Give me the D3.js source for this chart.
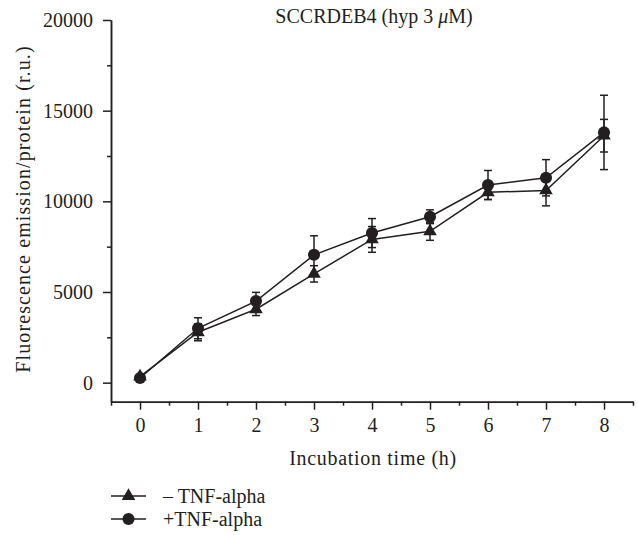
<!DOCTYPE html>
<html>
<head>
<meta charset="utf-8">
<script src="https://cdn.jsdelivr.net/npm/d3@7"></script>
<style>
  html, body { margin: 0; padding: 0; background: #fff; }
  svg { display: block; }
</style>
</head>
<body>
<svg id="chart" width="638" height="535" font-family="Liberation Serif"></svg>
<script>
// ---- data ----
const hours = [0, 1, 2, 3, 4, 5, 6, 7, 8];
const minusTNF = [330, 2780, 4050, 6000, 7900, 8350, 10500, 10600, 13620];
const minusTNFErr = [0, 470, 350, 450, 710, 500, 400, 850, 900];
const plusTNF = [260, 3000, 4500, 7050, 8250, 9150, 10900, 11300, 13800];
const plusTNFErr = [0, 580, 480, 1050, 800, 380, 800, 1000, 2050];
const xTickValues = [0, 1, 2, 3, 4, 5, 6, 7, 8];
const xMinorTicks = [-0.5, 0.5, 1.5, 2.5, 3.5, 4.5, 5.5, 6.5, 7.5, 8.5];
const yTickValues = [0, 5000, 10000, 15000, 20000];
const yMinorTicks = [2500, 7500, 12500, 17500];
const seriesNames = ["\u2013 TNF-alpha", "+TNF-alpha"];
const titleMain = "SCCRDEB4 (hyp 3 ";
const xLabel = "Incubation time (h)";
const yLabel = "Fluorescence emission/protein (r.u.)";

const ink = "#231f20";
const FONT = "Liberation Serif";
const svg = d3.select("#chart");

const x = d3.scaleLinear().domain([-0.5, 8.5]).range([111, 633]);
const y = d3.scaleLinear().domain([-1050, 20000]).range([401.7, 20]);

// axes
const xAxis = svg.append("g").attr("transform", `translate(0,${y(-1050)})`)
  .call(d3.axisBottom(x).tickValues(xTickValues).tickSize(8).tickSizeOuter(0).tickPadding(8).tickFormat(d3.format("d")));
const xMinor = svg.append("g").attr("transform", `translate(0,${y(-1050)})`)
  .call(d3.axisBottom(x).tickValues(xMinorTicks).tickSize(4).tickSizeOuter(0).tickFormat(""));
const yAxis = svg.append("g").attr("transform", `translate(${x(-0.5)},0)`)
  .call(d3.axisLeft(y).tickValues(yTickValues).tickSize(8).tickSizeOuter(0).tickPadding(10).tickFormat(d3.format("d")));
const yMinor = svg.append("g").attr("transform", `translate(${x(-0.5)},0)`)
  .call(d3.axisLeft(y).tickValues(yMinorTicks).tickSize(4).tickSizeOuter(0).tickFormat(""));

[xAxis, xMinor, yAxis, yMinor].forEach(g => {
  g.attr("font-family", FONT).attr("font-size", 20);
  g.selectAll("path").attr("stroke", ink).attr("stroke-width", 1.5);
  g.selectAll("line").attr("stroke", ink).attr("stroke-width", 1.5);
  g.selectAll("text").attr("fill", ink).attr("font-family", FONT).attr("font-size", 20);
});

// axis labels
svg.append("text").attr("x", 373).attr("y", 465).attr("text-anchor", "middle")
  .attr("font-family", FONT).attr("fill", ink)
  .attr("font-size", 20).attr("letter-spacing", 0.7).text(xLabel);
svg.append("text").attr("transform", "translate(30,209) rotate(-90)").attr("text-anchor", "middle")
  .attr("font-family", FONT).attr("fill", ink)
  .attr("font-size", 20).attr("letter-spacing", 1.1).text(yLabel);

// title
const t = svg.append("text").attr("x", 374).attr("y", 23).attr("text-anchor", "middle")
  .attr("font-family", FONT).attr("fill", ink).attr("font-size", 20);
t.append("tspan").text(titleMain);
t.append("tspan").attr("font-style", "italic").text("\u03bc");
t.append("tspan").text("M)");

// series
const series = [
  { name: seriesNames[0], vals: minusTNF, err: minusTNFErr, sym: d3.symbolTriangle, size: 80 },
  { name: seriesNames[1], vals: plusTNF, err: plusTNFErr, sym: d3.symbolCircle, size: 115 }
];

const line = d3.line().x((d, i) => x(hours[i])).y(d => y(d));

series.forEach(s => {
  const g = svg.append("g");
  hours.forEach((h, i) => {
    if (!s.err[i]) return;
    const cx = x(h), top = y(s.vals[i] + s.err[i]), bot = y(s.vals[i] - s.err[i]);
    g.append("line").attr("x1", cx).attr("x2", cx).attr("y1", top).attr("y2", bot)
      .attr("stroke", ink).attr("stroke-width", 1.5);
    [top, bot].forEach(yy => g.append("line").attr("x1", cx - 4).attr("x2", cx + 4)
      .attr("y1", yy).attr("y2", yy).attr("stroke", ink).attr("stroke-width", 1.5));
  });
  g.append("path").datum(s.vals).attr("d", line).attr("fill", "none")
    .attr("stroke", ink).attr("stroke-width", 1.5);
});
series.forEach(s => {
  svg.append("g").selectAll("path").data(s.vals).join("path")
    .attr("transform", (d, i) => `translate(${x(hours[i])},${y(d)})`)
    .attr("d", d3.symbol().type(s.sym).size(s.size)).attr("fill", ink);
});

// legend
const legY = [496, 519];
series.forEach((s, i) => {
  const g = svg.append("g").attr("transform", `translate(0,${legY[i]})`);
  g.append("line").attr("x1", 111).attr("x2", 146).attr("y1", 0).attr("y2", 0)
    .attr("stroke", ink).attr("stroke-width", 1.5);
  g.append("path").attr("transform", "translate(128.5,0)")
    .attr("d", d3.symbol().type(s.sym).size(s.size)).attr("fill", ink);
  g.append("text").attr("x", 163).attr("y", 7).attr("font-family", FONT).attr("fill", ink)
    .attr("font-size", 20).text(s.name);
});
</script>
</body>
</html>
